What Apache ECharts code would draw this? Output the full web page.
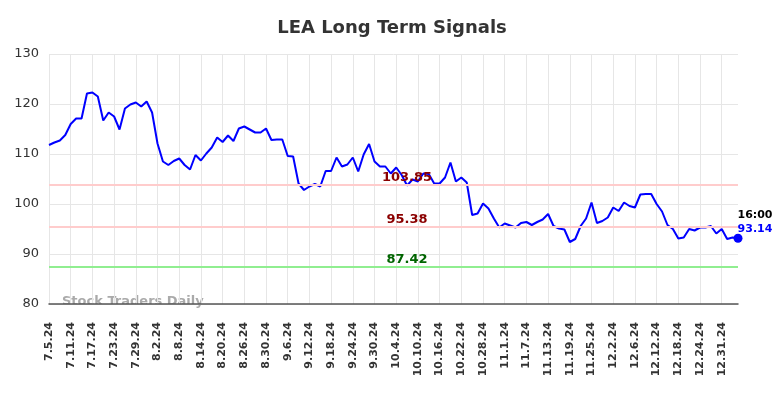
<!DOCTYPE html>
<html>
<head>
<meta charset="utf-8">
<script src="https://cdn.jsdelivr.net/npm/echarts@6/dist/echarts.min.js"></script>
<style>
  html, body { margin: 0; padding: 0; background: #fff; }
  #chart { width: 784px; height: 398px; }
</style>
</head>
<body>
<div id="chart"></div>
<script>
// trading days shown on the x axis
const dates = [
  "7.5.24","7.8.24","7.9.24","7.10.24","7.11.24","7.12.24","7.15.24","7.16.24","7.17.24","7.18.24",
  "7.19.24","7.22.24","7.23.24","7.24.24","7.25.24","7.26.24","7.29.24","7.30.24","7.31.24","8.1.24",
  "8.2.24","8.5.24","8.6.24","8.7.24","8.8.24","8.9.24","8.12.24","8.13.24","8.14.24","8.15.24",
  "8.16.24","8.19.24","8.20.24","8.21.24","8.22.24","8.23.24","8.26.24","8.27.24","8.28.24","8.29.24",
  "8.30.24","9.3.24","9.4.24","9.5.24","9.6.24","9.9.24","9.10.24","9.11.24","9.12.24","9.13.24",
  "9.16.24","9.17.24","9.18.24","9.19.24","9.20.24","9.23.24","9.24.24","9.25.24","9.26.24","9.27.24",
  "9.30.24","10.1.24","10.2.24","10.3.24","10.4.24","10.7.24","10.8.24","10.9.24","10.10.24","10.11.24",
  "10.14.24","10.15.24","10.16.24","10.17.24","10.18.24","10.21.24","10.22.24","10.23.24","10.24.24","10.25.24",
  "10.28.24","10.29.24","10.30.24","10.31.24","11.1.24","11.4.24","11.5.24","11.6.24","11.7.24","11.8.24",
  "11.11.24","11.12.24","11.13.24","11.14.24","11.15.24","11.18.24","11.19.24","11.20.24","11.21.24","11.22.24",
  "11.25.24","11.26.24","11.27.24","11.29.24","12.2.24","12.3.24","12.4.24","12.5.24","12.6.24","12.9.24",
  "12.10.24","12.11.24","12.12.24","12.13.24","12.16.24","12.17.24","12.18.24","12.19.24","12.20.24","12.23.24",
  "12.24.24","12.26.24","12.27.24","12.30.24","12.31.24","1.2.25","1.3.25","1.6.25"
];

// closing prices
const prices = [
  111.8,112.3,112.7,113.8,116.0,117.1,117.1,122.1,122.3,121.5,
  116.7,118.3,117.5,114.9,119.1,119.9,120.3,119.5,120.5,118.3,
  112.1,108.5,107.8,108.6,109.1,107.8,106.9,109.8,108.7,110.1,
  111.3,113.3,112.4,113.7,112.6,115.1,115.5,114.9,114.3,114.3,
  115.1,112.8,112.9,112.9,109.6,109.5,104.1,102.8,103.5,104.0,
  103.5,106.6,106.6,109.3,107.5,107.9,109.3,106.5,109.9,112.0,
  108.5,107.5,107.5,106.1,107.3,105.8,103.7,104.9,104.5,106.1,
  106.0,104.1,104.1,105.3,108.3,104.5,105.3,104.3,97.8,98.1,
  100.1,99.1,97.1,95.3,96.1,95.7,95.3,96.2,96.4,95.8,
  96.4,96.9,98.0,95.6,95.1,94.9,92.4,93.0,95.6,97.1,
  100.3,96.2,96.6,97.3,99.3,98.6,100.3,99.6,99.3,101.9,
  102.0,102.0,100.0,98.5,95.8,95.0,93.1,93.3,95.0,94.7,
  95.3,95.3,95.6,94.1,95.0,93.0,93.3,93.14
];

// signal levels
const resistance = [103.85, 95.38];
const support = [87.42];
const lastTime = "16:00";

const chart = echarts.init(document.getElementById("chart"));

const lastIdx = prices.length - 1;
const labelIdx = 66;

const levelLines = [
  ...resistance.map(v => ({yAxis: v, lineStyle: {color: "#ffcccc", width: 2, type: "solid"}})),
  ...support.map(v => ({yAxis: v, lineStyle: {color: "#90ee90", width: 2, type: "solid"}}))
];

const levelLabels = [
  ...resistance.map(v => ({coord: [dates[labelIdx], v], value: v.toFixed(2), label: {color: "#8b0000"}})),
  ...support.map(v => ({coord: [dates[labelIdx], v], value: v.toFixed(2), label: {color: "#006400"}}))
];

chart.setOption({
  animation: false,
  textStyle: {fontFamily: "DejaVu Sans"},
  title: {
    text: "LEA Long Term Signals",
    left: "center",
    top: 14,
    textStyle: {fontSize: 18, fontWeight: "bold", color: "#333"}
  },
  grid: {left: 49, right: 46, top: 54, bottom: 94},
  xAxis: {
    type: "category",
    data: dates,
    boundaryGap: false,
    axisLine: {lineStyle: {color: "#555", width: 1.5}},
    axisTick: {show: false},
    axisLabel: {
      interval: 3,
      rotate: 90,
      margin: 18,
      fontSize: 11,
      fontWeight: "bold",
      color: "#333"
    },
    splitLine: {show: true, interval: 3, lineStyle: {color: "#e6e6e6"}}
  },
  yAxis: {
    type: "value",
    min: 80,
    max: 130,
    interval: 10,
    axisLine: {show: false},
    axisTick: {show: false},
    axisLabel: {fontSize: 13, color: "#333", margin: 10},
    splitLine: {lineStyle: {color: "#e6e6e6"}}
  },
  graphic: [{
    type: "text",
    left: 62,
    top: 295,
    style: {
      text: "Stock Traders Daily",
      fontSize: 13,
      fontWeight: "bold",
      fill: "#aaa",
      fontFamily: "DejaVu Sans"
    }
  }],
  series: [
    {
      type: "line",
      data: prices,
      showSymbol: false,
      lineStyle: {color: "#0000ff", width: 2},
      itemStyle: {color: "#0000ff"},
      markLine: {
        silent: true,
        symbol: "none",
        label: {show: false},
        data: levelLines
      },
      markPoint: {
        silent: true,
        data: [
          ...levelLabels.map(d => ({
            ...d,
            symbolSize: 0,
            label: {
              show: true,
              position: "top",
              distance: 1,
              fontSize: 13,
              fontWeight: "bold",
              formatter: d.value,
              ...d.label
            }
          })),
          {
            coord: [dates[lastIdx], prices[lastIdx]],
            symbol: "circle",
            symbolSize: 9,
            itemStyle: {color: "#0000ff"},
            label: {
              show: true,
              position: "top",
              distance: 4,
              offset: [17, 6],
              lineHeight: 14,
              formatter: "{t|" + lastTime + "}\n{v|" + prices[lastIdx].toFixed(2) + "}",
              rich: {
                t: {fontSize: 11, fontWeight: "bold", color: "#000"},
                v: {fontSize: 11, fontWeight: "bold", color: "#0000ff"}
              }
            }
          }
        ]
      }
    }
  ]
});
</script>
</body>
</html>
